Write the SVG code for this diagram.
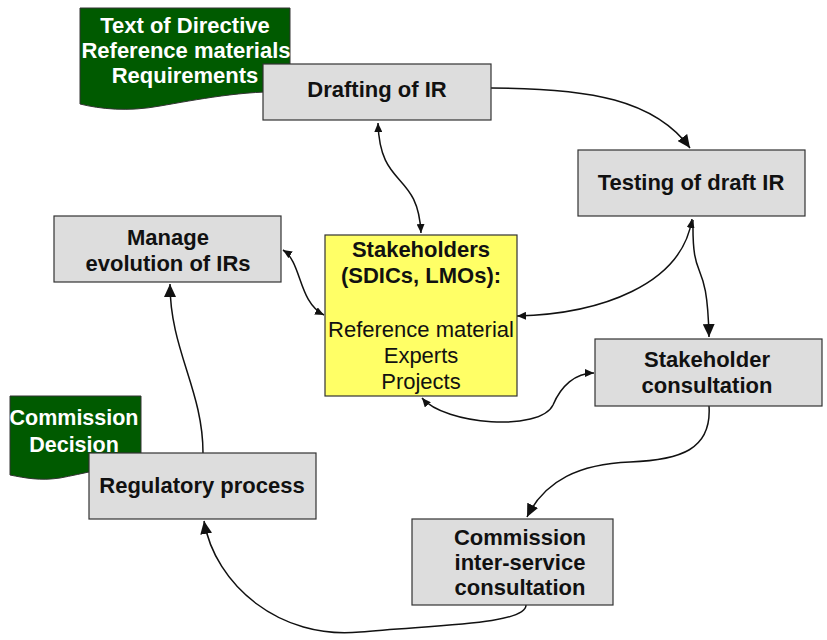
<svg xmlns="http://www.w3.org/2000/svg" width="827" height="640" viewBox="0 0 827 640">
<defs>
<style>
.box{fill:#dddddd;stroke:#333333;stroke-width:1.2}
.yel{fill:#ffff66;stroke:#333333;stroke-width:1.2}
.doc{fill:#005a00;stroke:#333333;stroke-width:1}
.lbl{font-family:"Liberation Sans",Arial,sans-serif;font-weight:bold;font-size:22px;fill:#111111;text-anchor:middle}
.reg{font-family:"Liberation Sans",Arial,sans-serif;font-size:22px;fill:#111111;text-anchor:middle}
.wht{font-family:"Liberation Sans",Arial,sans-serif;font-weight:bold;font-size:22px;fill:#ffffff;text-anchor:middle}
.big{fill:none;stroke:#111111;stroke-width:1.5;marker-end:url(#ah)}
.dbl{fill:none;stroke:#111111;stroke-width:1.5;marker-start:url(#as);marker-end:url(#as)}
</style>
<marker id="ah" markerUnits="userSpaceOnUse" markerWidth="14" markerHeight="12" refX="13" refY="6" orient="auto"><path d="M0,0 L13,6 L0,12 Z" fill="#111111"/></marker>
<marker id="as" markerUnits="userSpaceOnUse" markerWidth="10" markerHeight="8" refX="9" refY="4" orient="auto-start-reverse"><path d="M0,0 L9,4 L0,8 Z" fill="#111111"/></marker>
</defs>
<rect x="0" y="0" width="827" height="640" fill="#ffffff"/>

<g id="doc-directive">
<path class="doc" d="M80,8 L290,8 L290,92 C245,90 195,100 160,106 C128,112 100,109 80,104 Z"/>
<text class="wht" x="185" y="33">Text of Directive</text>
<text class="wht" x="186" y="58">Reference materials</text>
<text class="wht" x="185" y="83">Requirements</text>
</g>

<g id="doc-decision">
<path class="doc" d="M10,396 L141,396 L141,465 C110,466 82,474 60,478 C40,481 25,478 10,475 Z"/>
<text class="wht" x="74" y="425" style="font-size:21.5px">Commission</text>
<text class="wht" x="74" y="452" style="font-size:21.5px">Decision</text>
</g>

<g id="connectors">
<path class="big" d="M491,88 C590,88 655,100 690,148"/>
<path class="dbl" d="M378,123 C380,190 418,170 421,233"/>
<path class="dbl" d="M692,219 C682,285 600,314 517,316"/>
<path class="big" d="M693,220 C692,290 707,250 709,337"/>
<path class="dbl" d="M283,250 C302,262 298,302 324,315"/>
<path class="dbl" d="M422,398 C445,425 540,432 553,405 C561,386 575,373 594,373"/>
<path class="big" d="M709,406 C712,450 680,460 630,462 C580,464 545,480 527,517"/>
<path class="big" d="M526,605 C526,625 430,625 360,632 C280,640 215,585 204,521"/>
<path class="big" d="M203,453 C203,390 170,350 170,284"/>
</g>

<g id="drafting">
<rect class="box" x="263" y="64" width="228" height="56"/>
<text class="lbl" x="377" y="97">Drafting of IR</text>
</g>

<g id="testing">
<rect class="box" x="578" y="150" width="227" height="66"/>
<text class="lbl" x="691" y="190">Testing of draft IR</text>
</g>

<g id="manage">
<rect class="box" x="54" y="216" width="227" height="66"/>
<text class="lbl" x="168" y="245">Manage</text>
<text class="lbl" x="168" y="271">evolution of IRs</text>
</g>

<g id="stakeholders">
<rect class="yel" x="325" y="235" width="192" height="161"/>
<text class="lbl" x="421" y="257">Stakeholders</text>
<text class="lbl" x="421" y="283">(SDICs, LMOs):</text>
<text class="reg" x="421" y="337">Reference material</text>
<text class="reg" x="421" y="363">Experts</text>
<text class="reg" x="421" y="389">Projects</text>
</g>

<g id="stakeholder-consultation">
<rect class="box" x="595" y="339" width="227" height="67"/>
<text class="lbl" x="707" y="367">Stakeholder</text>
<text class="lbl" x="707" y="393">consultation</text>
</g>

<g id="interservice">
<rect class="box" x="412" y="519" width="201" height="86"/>
<text class="lbl" x="520" y="545">Commission</text>
<text class="lbl" x="520" y="570">inter-service</text>
<text class="lbl" x="520" y="595">consultation</text>
</g>

<g id="regulatory">
<rect class="box" x="89" y="453" width="227" height="66"/>
<text class="lbl" x="202" y="493">Regulatory process</text>
</g>
</svg>
